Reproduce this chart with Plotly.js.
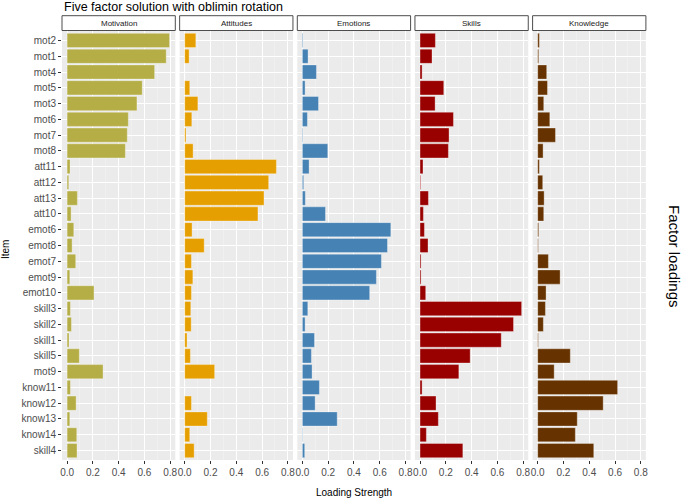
<!DOCTYPE html>
<html><head><meta charset="utf-8">
<script src="https://cdn.plot.ly/plotly-3.0.1.min.js"></script>
<style>html,body{margin:0;padding:0;background:#fff}#chart{width:685px;height:499px}</style>
</head><body><div id="chart"></div>
<script>
const items = ['mot2','mot1','mot4','mot5','mot3','mot6','mot7','mot8','att11','att12','att13','att10','emot6','emot8','emot7','emot9','emot10','skill3','skill2','skill1','skill5','mot9','know11','know12','know13','know14','skill4'];
const factors = ['Motivation','Attitudes','Emotions','Skills','Knowledge'];
const motivation = [0.795,0.769,0.679,0.583,0.542,0.475,0.467,0.452,0.023,0.013,0.080,0.031,0.052,0.039,0.067,0.021,0.209,0.026,0.034,0.015,0.095,0.279,0.026,0.070,0.021,0.075,0.077];
const attitudes  = [0.086,0.034,0.000,0.039,0.102,0.055,0.010,0.065,0.711,0.651,0.615,0.568,0.057,0.151,0.052,0.063,0.052,0.047,0.050,0.018,0.044,0.232,0.000,0.052,0.175,0.039,0.073];
const emotions   = [0.005,0.044,0.109,0.021,0.125,0.039,0.004,0.197,0.052,0.010,0.023,0.179,0.686,0.660,0.613,0.574,0.522,0.042,0.021,0.094,0.070,0.075,0.132,0.099,0.270,0.003,0.018];
const skills     = [0.119,0.093,0.016,0.184,0.117,0.259,0.225,0.220,0.023,0.005,0.065,0.026,0.034,0.062,0.008,0.008,0.044,0.788,0.725,0.630,0.389,0.301,0.016,0.124,0.142,0.049,0.332];
const knowledge  = [0.013,0.008,0.070,0.076,0.047,0.094,0.138,0.042,0.013,0.039,0.050,0.047,0.008,0.005,0.083,0.174,0.065,0.060,0.044,0.005,0.253,0.128,0.620,0.508,0.307,0.292,0.435];
const xTicks = [0, 0.2, 0.4, 0.6, 0.8];
const xTickText = ['0.0','0.2','0.4','0.6','0.8'];

const series = [motivation, attitudes, emotions, skills, knowledge];
const colors = ['#B5AE47','#E69F00','#4682B4','#990000','#663300'];

const W = 685, H = 499;
const M = {l:62, r:39, t:31, b:39};
const plotW = W - M.l - M.r, plotH = H - M.t - M.b;
const panelW = 113.3, gap = 4.35;

const traces = series.map((vals, i) => ({
  type: 'bar', orientation: 'h',
  x: vals, y: items,
  xaxis: i === 0 ? 'x' : 'x' + (i + 1), yaxis: 'y',
  marker: {color: colors[i], line: {color: 'rgba(255,255,255,0.55)', width: 0.6}},
  hoverinfo: 'x+y', showlegend: false
}));

const layout = {
  width: W, height: H,
  margin: M,
  paper_bgcolor: '#ffffff', plot_bgcolor: '#EBEBEB',
  font: {family: 'Liberation Sans, Arial, sans-serif', color: '#4D4D4D', size: 10},
  bargap: 0.1,
  yaxis: {
    type: 'category', categoryorder: 'array', categoryarray: items,
    range: [items.length - 1 + 0.6, -0.6],
    showgrid: true, gridcolor: '#ffffff', gridwidth: 1,
    ticks: 'outside', ticklen: 3, tickcolor: '#333333', tickwidth: 1,
    tickfont: {size: 10, color: '#4D4D4D'},
    zeroline: false, showline: false, anchor: 'x', fixedrange: true
  },
  shapes: [], annotations: []
};

for (let i = 0; i < 5; i++) {
  const x0 = (i * (panelW + gap)) / plotW;
  const x1 = (i * (panelW + gap) + panelW) / plotW;
  const key = i === 0 ? 'xaxis' : 'xaxis' + (i + 1);
  layout[key] = {
    domain: [x0, Math.min(x1, 1)], anchor: 'y',
    range: [-0.0394, 0.8394],
    tickvals: xTicks, ticktext: xTickText,
    showgrid: true, gridcolor: '#ffffff', gridwidth: 1,
    minor: {tickvals: [0.1, 0.3, 0.5, 0.7], showgrid: true, gridcolor: '#F6F6F6', gridwidth: 0.5, ticks: ''},
    ticks: 'outside', ticklen: 3, tickcolor: '#333333',
    tickfont: {size: 10, color: '#4D4D4D'},
    zeroline: false, showline: false, fixedrange: true
  };
  const sTop = 1 + (M.t - 15.7) / plotH;
  layout.shapes.push({
    type: 'rect', xref: 'paper', yref: 'paper',
    x0: x0, x1: Math.min(x1, 1), y0: 1 + 0.5 / plotH, y1: sTop,
    fillcolor: '#ffffff', line: {color: '#4D4D4D', width: 1}
  });
  layout.annotations.push({
    xref: 'paper', yref: 'paper', x: (x0 + Math.min(x1, 1)) / 2, y: (1 + sTop) / 2,
    xanchor: 'center', yanchor: 'middle', showarrow: false,
    text: factors[i], font: {size: 8, color: '#1A1A1A'}
  });
}

layout.annotations.push(
  {xref: 'paper', yref: 'paper', x: 0, y: 1 + (M.t - 7.5) / plotH, xanchor: 'left', yanchor: 'middle',
   showarrow: false, text: 'Five factor solution with oblimin rotation', font: {size: 12.5, color: '#000000'}},
  {xref: 'paper', yref: 'paper', x: 0.5, y: -(492.5 - (H - M.b)) / plotH, xanchor: 'center', yanchor: 'middle',
   showarrow: false, text: 'Loading Strength', font: {size: 10, color: '#000000'}},
  {xref: 'paper', yref: 'paper', x: -(M.l - 5) / plotW, y: 1 - (250 - M.t) / plotH, xanchor: 'center', yanchor: 'middle',
   showarrow: false, text: 'Item', textangle: -90, font: {size: 10, color: '#000000'}},
  {xref: 'paper', yref: 'paper', x: 1 + (675 - (W - M.r)) / plotW, y: 1 - (256 - M.t) / plotH, xanchor: 'center', yanchor: 'middle',
   showarrow: false, text: 'Factor loadings', textangle: 90, font: {size: 15, color: '#000000'}}
);

Plotly.newPlot('chart', traces, layout, {displayModeBar: false, staticPlot: true});
</script>
</body></html>
